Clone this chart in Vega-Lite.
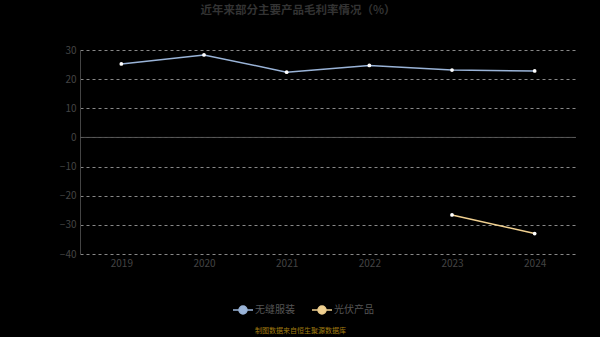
{
  "$schema": "https://vega.github.io/schema/vega-lite/v6.json",
  "autosize": "none",
  "width": 496,
  "height": 204,
  "padding": {"left": 80, "top": 50, "right": 24, "bottom": 83},
  "background": "#000000",
  "title": {
    "text": "近年来部分主要产品毛利率情况（%）",
    "color": "#333333",
    "fontSize": 11.5,
    "fontWeight": "bold",
    "font": "Noto Sans CJK SC",
    "offset": 29,
    "anchor": "middle",
    "dx": -30
  },
  "config": {
    "view": {"stroke": null},
    "font": "Noto Sans CJK SC"
  },
  "data": {
    "values": [
      {"year": "2019", "series": "无缝服装", "value": 25.2},
      {"year": "2020", "series": "无缝服装", "value": 28.3},
      {"year": "2021", "series": "无缝服装", "value": 22.4},
      {"year": "2022", "series": "无缝服装", "value": 24.7},
      {"year": "2023", "series": "无缝服装", "value": 23.1},
      {"year": "2024", "series": "无缝服装", "value": 22.8},
      {"year": "2023", "series": "光伏产品", "value": -26.6},
      {"year": "2024", "series": "光伏产品", "value": -33.0}
    ]
  },
  "encoding": {
    "y": {
      "field": "value", "type": "quantitative",
      "scale": {"domain": [-40, 30], "nice": false},
      "axis": {
        "title": null,
        "values": [-40, -30, -20, -10, 0, 10, 20, 30],
        "labelColor": "#444444",
        "labelFontSize": 10,
        "labelPadding": 4,
        "domain": true,
        "domainColor": "#444444",
        "ticks": false,
        "grid": true,
        "gridColor": "#888888",
        "gridDash": [3, 3],
        "gridWidth": 1
      }
    }
  },
  "layer": [
    {
      "mark": {"type": "line", "strokeWidth": 1.5, "point": {"filled": true, "fill": "#ffffff", "size": 14}},
      "encoding": {
        "x": {
          "field": "year", "type": "ordinal", "sort": null,
          "scale": {"type": "point", "padding": 0.5},
          "axis": {
            "title": "制图数据来自恒生聚源数据库",
            "titleColor": "#a07c10",
            "titleFontSize": 7,
            "titleFontWeight": "normal",
            "titlePadding": 58,
            "titleX": 220,
            "labelColor": "#444444",
            "labelFontSize": 10,
            "labelPadding": 4,
            "domain": false,
            "ticks": false,
            "grid": false,
            "labelAngle": 0
          }
        },
        "color": {
          "field": "series", "type": "nominal",
          "scale": {"domain": ["无缝服装", "光伏产品"], "range": ["#9ab4d8", "#f0d090"]},
          "legend": {
            "orient": "none",
            "legendX": 157,
            "legendY": 254,
            "direction": "horizontal",
            "title": null,
            "labelColor": "#555555",
            "labelFontSize": 10,
            "labelOffset": 6,
            "symbolType": "M -2 0 L -0.8 0 M 0.8 0 L 2 0 M 0.8 0 A 0.8 0.8 0 1 1 -0.8 0 A 0.8 0.8 0 1 1 0.8 0",
            "symbolSize": 100,
            "symbolStrokeWidth": 1.5,
            "columnPadding": 14,
            "encode": {"symbols": {"update": {"fill": {"value": "#ffffff"}, "fillOpacity": {"value": 1}}}}
          }
        }
      }
    },
    {
      "data": {"values": [{"zero": 0}]},
      "mark": {"type": "rule", "color": "#555555", "strokeWidth": 1},
      "encoding": {"y": {"field": "zero", "type": "quantitative"}}
    }
  ]
}
